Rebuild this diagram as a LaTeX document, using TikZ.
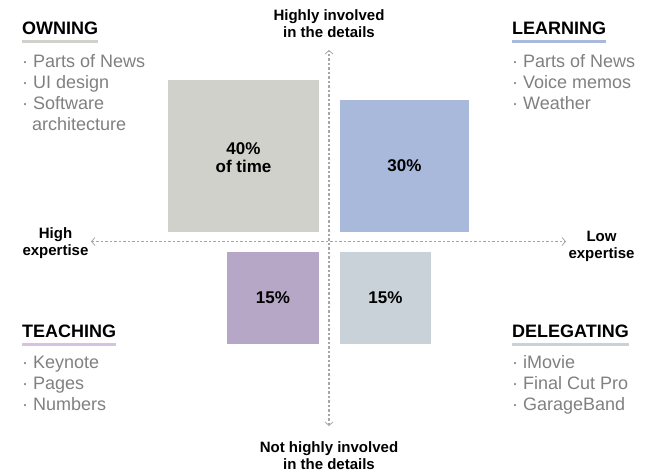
\documentclass[tikz,border=0pt]{standalone}
\usepackage{fontspec}
\setmainfont{Liberation Sans}
\usetikzlibrary{arrows.meta}

\definecolor{owncol}{HTML}{D0D1CB}
\definecolor{learncol}{HTML}{A9B9DC}
\definecolor{teachcol}{HTML}{B6A7C7}
\definecolor{delcol}{HTML}{C9D2D9}
\definecolor{teachline}{HTML}{D8C2E2}
\definecolor{itemgray}{HTML}{808080}

\tikzset{
    heading/.style={anchor=base west, inner sep=0pt, font=\fontsize{18}{21}\selectfont\bfseries},
    item/.style={anchor=base west, inner sep=0pt, text=itemgray, font=\fontsize{18}{21}\selectfont},
    axislabel/.style={align=center, inner sep=0pt, font=\fontsize{15}{17}\selectfont\bfseries},
    share/.style={align=center, inner sep=0pt, font=\fontsize{17}{18}\selectfont\bfseries},
    axis/.style={draw=gray!70, line width=1.1pt, dash pattern=on 2.5pt off 2pt,
        {Straight Barb[length=3.5pt, width=8pt, line width=0.8pt]}-{Straight Barb[length=3.5pt, width=8pt, line width=0.8pt]}}
}

\begin{document}
\begin{tikzpicture}[x=1pt, y=-1pt]
    \useasboundingbox (0,0) rectangle (649,474);

    % Squares
    \fill[owncol] (168,80) rectangle (319,232);
    \fill[learncol] (340,100) rectangle (469,232);
    \fill[teachcol] (227,252) rectangle (319,344);
    \fill[delcol] (340,252) rectangle (431,344);

    \node[share] (owntime) at (243.5,158) {40\%\\of time};
    \node[share] (learntime) at (404.5,166) {30\%};
    \node[share] (teachtime) at (273,298) {15\%};
    \node[share] (deltime) at (385.5,298) {15\%};

    % Axes
    \coordinate (top) at (329,50);
    \coordinate (bottom) at (329,426);
    \coordinate (left) at (91,241.5);
    \coordinate (right) at (566,241.5);
    \draw[axis] (bottom) -- (top);
    \draw[axis] (left) -- (right);

    \node[axislabel] (involved) at (329,24) {Highly involved\\in the details};
    \node[axislabel] (notinvolved) at (329,456) {Not highly involved\\in the details};
    \node[axislabel] (highexp) at (55.5,243.5) {High\\expertise};
    \node[axislabel] (lowexp) at (601.5,246.5) {Low\\expertise};

    % Owning
    \node[heading] (owning) at (22,34) {OWNING};
    \draw[owncol, line width=2.5pt] ([yshift=-7pt]owning.south west) -- ([yshift=-7pt]owning.south east);
    \foreach \txt [count=\i] in {Parts of News, UI design, Software}
        \node[item] (own\i) at (22,46+21*\i) {· \txt};
    \node[item] (own4) at (32,130) {architecture};

    % Learning
    \node[heading] (learning) at (512,34) {LEARNING};
    \draw[learncol, line width=2.5pt] ([yshift=-7pt]learning.south west) -- ([yshift=-7pt]learning.south east);
    \foreach \txt [count=\i] in {Parts of News, Voice memos, Weather}
        \node[item] (learn\i) at (512,46+21*\i) {· \txt};

    % Teaching
    \node[heading] (teaching) at (22,337) {TEACHING};
    \draw[teachline, line width=2.5pt] ([yshift=-7pt]teaching.south west) -- ([yshift=-7pt]teaching.south east);
    \foreach \txt [count=\i] in {Keynote, Pages, Numbers}
        \node[item] (teach\i) at (22,347+21*\i) {· \txt};

    % Delegating
    \node[heading] (delegating) at (512,337) {DELEGATING};
    \draw[delcol, line width=2.5pt] ([yshift=-7pt]delegating.south west) -- ([yshift=-7pt]delegating.south east);
    \foreach \txt [count=\i] in {iMovie, Final Cut Pro, GarageBand}
        \node[item] (del\i) at (512,347+21*\i) {· \txt};

\end{tikzpicture}
\end{document}
